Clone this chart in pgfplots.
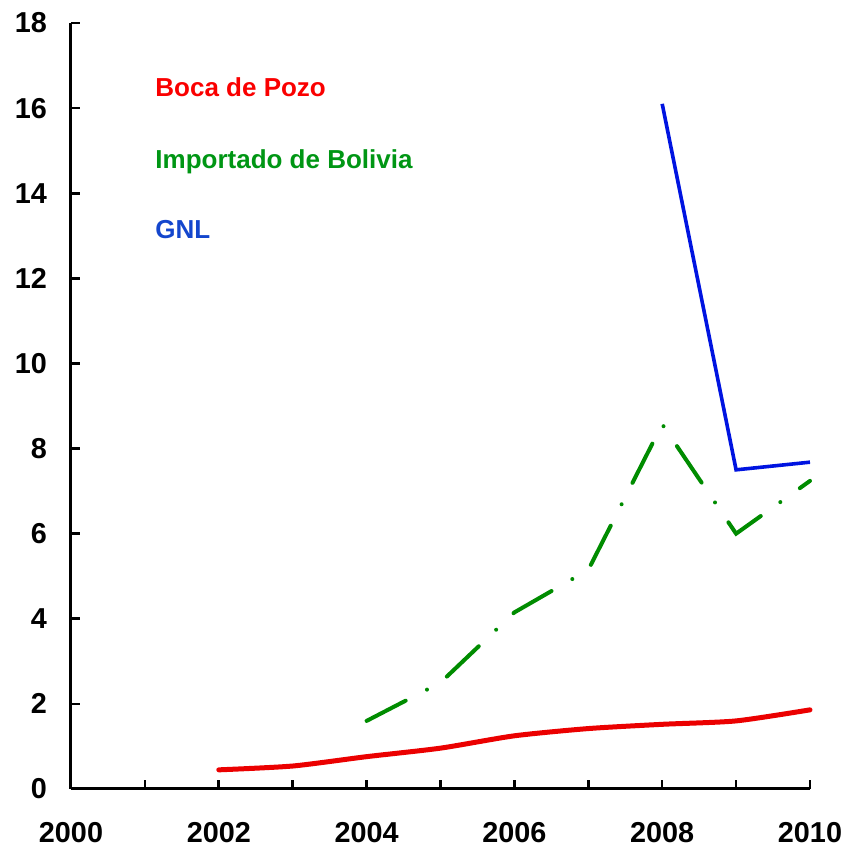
\documentclass[border=0pt]{standalone}
\usepackage{pgfplots}
\pgfplotsset{compat=1.18}
\usepackage{fontspec}
\setmainfont{Liberation Sans}
\definecolor{cred}{RGB}{235,0,0}
\definecolor{cgreen}{RGB}{0,140,0}
\definecolor{cblue}{RGB}{0,20,225}
\definecolor{tred}{RGB}{250,0,0}
\definecolor{tgreen}{RGB}{0,150,20}
\definecolor{tblue}{RGB}{20,70,205}
\begin{document}
\begin{tikzpicture}
\useasboundingbox (-35.5pt,-32pt) rectangle (386.5pt,394.5pt);
\begin{axis}[
  at={(0,0)}, anchor=south west,
  scale only axis,
  width=369.5pt, height=383pt,
  xmin=2000, xmax=2010, ymin=0, ymax=18,
  axis x line*=bottom, axis y line*=left,
  axis line style={line width=1.5pt, -},
  xtick={2000,2002,...,2010},
  minor xtick={2001,2003,...,2009},
  ytick={0,2,...,18},
  tick style={line width=1.3pt, black},
  major tick length=4.5pt, minor tick length=4.5pt,
  tick align=inside,
  xticklabel style={font=\fontsize{14.4}{16}\selectfont\bfseries, yshift=-13pt},
  yticklabel style={font=\fontsize{14.4}{16}\selectfont\bfseries, xshift=-8.5pt},
  /pgf/number format/set thousands separator={},
  /pgf/number format/assume math mode=true,
  clip=false,
]
\addplot[cred, line width=2.5pt, smooth, tension=0.4, line cap=round] coordinates {
  (2002,0.45) (2003,0.54) (2004,0.76) (2005,0.96) (2006,1.25) (2007,1.42) (2008,1.52) (2009,1.6) (2010,1.86)
};
\addplot[cgreen, line width=2pt, line cap=round, dash pattern=on 22pt off 12pt on 0pt off 12pt] coordinates {
  (2004,1.6) (2005,2.5) (2006,4.15) (2007,5.15) (2008,8.57) (2009,6.0) (2010,7.24)
};
\addplot[cblue, line width=1.8pt] coordinates {
  (2008,16.1) (2009,7.5) (2010,7.68)
};
\node[anchor=base west, text=tred, font=\fontsize{13}{15}\selectfont\bfseries, inner sep=0pt] at (rel axis cs:0.1137,0.9047) {Boca de Pozo};
\node[anchor=base west, text=tgreen, font=\fontsize{13}{15}\selectfont\bfseries, inner sep=0pt] at (rel axis cs:0.1137,0.8107) {Importado de Bolivia};
\node[anchor=base west, text=tblue, font=\fontsize{13}{15}\selectfont\bfseries, inner sep=0pt] at (rel axis cs:0.1137,0.7193) {GNL};
\end{axis}
\end{tikzpicture}
\end{document}
